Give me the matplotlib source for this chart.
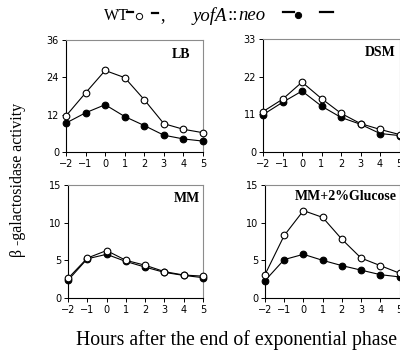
import matplotlib
matplotlib.use("Agg")
import matplotlib.pyplot as plt
from matplotlib.lines import Line2D

# Horas respecto al final de la fase exponencial
hours = [-2, -1, 0, 1, 2, 3, 4, 5]

lb_wt = [11.6, 19.0, 26.2, 23.9, 16.8, 9.1, 7.3, 6.2]
lb_yofa = [9.3, 12.6, 15.2, 11.4, 8.5, 5.4, 4.2, 3.5]

dsm_wt = [11.8, 15.4, 20.4, 15.6, 11.3, 8.3, 6.6, 5.1]
dsm_yofa = [10.9, 14.5, 17.8, 13.4, 10.1, 8.1, 5.4, 4.8]

mm_wt = [2.6, 5.3, 6.3, 5.0, 4.35, 3.5, 3.05, 2.9]
mm_yofa = [2.35, 5.2, 5.8, 4.85, 4.1, 3.4, 3.0, 2.7]

glc_wt = [3.1, 8.3, 11.6, 10.7, 7.8, 5.3, 4.3, 3.3]
glc_yofa = [2.3, 5.1, 5.8, 5.0, 4.3, 3.7, 3.1, 2.8]

panels = [
    ("LB", lb_wt, lb_yofa, [0, 12, 24, 36]),
    ("DSM", dsm_wt, dsm_yofa, [0, 11, 22, 33]),
    ("MM", mm_wt, mm_yofa, [0, 5, 10, 15]),
    ("MM+2%Glucose", glc_wt, glc_yofa, [0, 5, 10, 15]),
]

W, H = 400, 354
# (left, top, right, bottom) en píxeles
boxes = [
    (66, 40, 203, 152),
    (263, 39, 399.5, 152),
    (68, 185, 203, 298),
    (265, 185, 399.5, 298),
]
# posición de la etiqueta de cada panel (px desde la derecha, px desde arriba)
label_pos = [(13, 15), (3.5, 14), (3, 13), (2.5, 12)]

SERIF = "Liberation Serif"

fig = plt.figure(figsize=(W / 100, H / 100), dpi=100)
fig.patch.set_facecolor("white")

for (name, wt, yofa, yticks), (l, t, r, b), (dx, dy) in zip(panels, boxes, label_pos):
    ax = fig.add_axes([l / W, 1 - b / H, (r - l) / W, (b - t) / H])
    ax.plot(hours, yofa, color="black", lw=0.8, marker="o", ms=4.8,
            mfc="black", mec="black", mew=0.8, zorder=3, clip_on=False)
    ax.plot(hours, wt, color="black", lw=0.8, marker="o", ms=4.8,
            mfc="white", mec="black", mew=0.8, zorder=4, clip_on=False)
    ax.set_xlim(-2, 5)
    ax.set_ylim(yticks[0], yticks[-1])
    ax.set_xticks(hours)
    ax.set_yticks(yticks)
    ax.tick_params(direction="out", length=3, width=0.7, labelsize=7, pad=2,
                   colors="black")
    for lab in ax.get_xticklabels() + ax.get_yticklabels():
        lab.set_family("DejaVu Sans")
    ax.spines["left"].set_color("black")
    ax.spines["bottom"].set_color("black")
    ax.spines["top"].set_color("#8c8c8c")
    ax.spines["right"].set_color("#8c8c8c")
    for s in ax.spines.values():
        s.set_linewidth(0.8)
    ax.text(1 - dx / (r - l), 1 - dy / (b - t), name, transform=ax.transAxes,
            ha="right", va="center", fontsize=10, fontweight="bold",
            family=SERIF)

# Leyenda en la cabecera
renderer = fig.canvas.get_renderer()
ty = 1 - 16 / H


def put(x_px, s, size, style="normal"):
    txt = fig.text(x_px / W, ty, s, fontsize=size, family=SERIF, style=style,
                   ha="left", va="center")
    bb = txt.get_window_extent(renderer)
    return x_px + bb.width


put(104, "WT", 11.5)
put(160, ",", 13)
x = put(193, "yofA", 13.5, "italic")
x = put(x, "::", 13.5)
put(x, "neo", 13.5, "italic")


def seg(x0, x1, y):
    fig.add_artist(Line2D([x0 / W, x1 / W], [1 - y / H, 1 - y / H],
                          color="black", lw=1.6, transform=fig.transFigure))


def dot(x, y, fc):
    fig.add_artist(Line2D([x / W], [1 - y / H], marker="o", ms=4.5,
                          mfc=fc, mec="black", mew=0.7, ls="none",
                          transform=fig.transFigure))


seg(127, 133, 12)
dot(139, 16, "white")
seg(152, 158, 13)
seg(283, 294, 12)
dot(298, 14.5, "black")
seg(320, 333, 12)

fig.text(18 / W, 1 - 180 / H, "β -galactosidase activity", fontsize=11.5,
         family=SERIF, rotation=90, ha="center", va="center")
fig.text(236 / W, 1 - 340 / H, "Hours after the end of exponential phase",
         fontsize=14.2, family=SERIF, ha="center", va="center")

fig.savefig("out.png", dpi=100, facecolor="white")
